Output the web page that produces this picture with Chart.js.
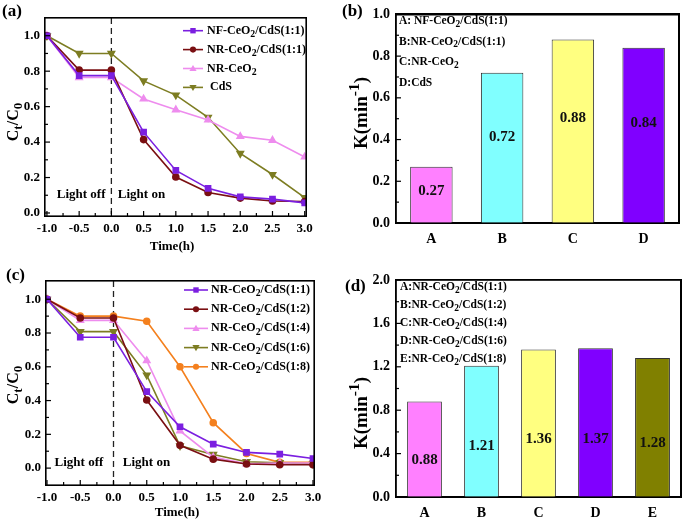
<!DOCTYPE html>
<html>
<head>
<meta charset="utf-8">
<script src="https://cdn.jsdelivr.net/npm/chart.js@4.4.0/dist/chart.umd.min.js"></script>
<style>
  body { margin: 0; background: #fff; width: 685px; height: 522px; position: relative; overflow: hidden; }
  .panel { position: absolute; line-height: 0; }
  canvas { display: block; }
</style>
</head>
<body>
<div class="panel" id="panelA" style="left:0;top:0"><canvas id="chartA" width="340" height="260"></canvas></div>
<div class="panel" id="panelB" style="left:340px;top:0"><canvas id="chartB" width="345" height="260"></canvas></div>
<div class="panel" id="panelC" style="left:0;top:260px"><canvas id="chartC" width="340" height="262"></canvas></div>
<div class="panel" id="panelD" style="left:340px;top:260px"><canvas id="chartD" width="345" height="262"></canvas></div>

<script>
// ---- data ----
const timeH = [-1.0, -0.5, 0.0, 0.5, 1.0, 1.5, 2.0, 2.5, 3.0];

// panel (a)
const namesA = ['NF-CeO_{2}/CdS(1:1)', 'NR-CeO_{2}/CdS(1:1)', 'NR-CeO_{2}', ' CdS'];
const nfCdS11 = [1.0, 0.775, 0.775, 0.456, 0.24, 0.139, 0.091, 0.078, 0.057];
const nrCdS11 = [1.0, 0.806, 0.806, 0.414, 0.203, 0.116, 0.084, 0.068, 0.065];
const nrCeO2 = [1.0, 0.764, 0.764, 0.643, 0.582, 0.525, 0.432, 0.41, 0.316];
const cdsOnly = [1.0, 0.9, 0.9, 0.745, 0.665, 0.54, 0.336, 0.217, 0.087];

// panel (c)
const namesC = ['NR-CeO_{2}/CdS(1:1)', 'NR-CeO_{2}/CdS(1:2)', 'NR-CeO_{2}/CdS(1:4)', 'NR-CeO_{2}/CdS(1:6)', 'NR-CeO_{2}/CdS(1:8)'];
const ratio11 = [1.0, 0.775, 0.775, 0.453, 0.245, 0.142, 0.093, 0.083, 0.057];
const ratio12 = [1.0, 0.889, 0.889, 0.403, 0.135, 0.053, 0.024, 0.02, 0.02];
const ratio14 = [1.0, 0.875, 0.875, 0.636, 0.22, 0.065, 0.025, 0.03, 0.03];
const ratio16 = [1.0, 0.808, 0.808, 0.551, 0.132, 0.081, 0.038, 0.032, 0.024];
const ratio18 = [1.0, 0.9, 0.9, 0.87, 0.6, 0.269, 0.087, 0.034, 0.034];

// panel (b)
const catsB = ['A', 'B', 'C', 'D'];
const kB = [0.27, 0.72, 0.88, 0.84];
const boxTextB = ['A: NF-CeO_{2}/CdS(1:1)', 'B:NR-CeO_{2}/CdS(1:1)', 'C:NR-CeO_{2}', 'D:CdS'];

// panel (d)
const catsD = ['A', 'B', 'C', 'D', 'E'];
const kD = [0.88, 1.21, 1.36, 1.37, 1.28];
const boxTextD = ['A:NR-CeO_{2}/CdS(1:1)', 'B:NR-CeO_{2}/CdS(1:2)', 'C:NR-CeO_{2}/CdS(1:4)', 'D:NR-CeO_{2}/CdS(1:6)', 'E:NR-CeO_{2}/CdS(1:8)'];

// tick labels
const timeTicks = [-1.0, -0.5, 0.0, 0.5, 1.0, 1.5, 2.0, 2.5, 3.0];
const ratioTicks = [0.0, 0.2, 0.4, 0.6, 0.8, 1.0];
const kTicksB = [0.0, 0.2, 0.4, 0.6, 0.8, 1.0];
const kTicksD = [0.0, 0.4, 0.8, 1.2, 1.6, 2.0];

// ---- helpers ----
const SERIF = '"Liberation Serif", "Times New Roman", serif';
const font = s => 'bold ' + s + 'px ' + SERIF;

function richParts(str) {
  const out = [];
  const re = /([_^])\{([^}]*)\}/g;
  let last = 0, m;
  while ((m = re.exec(str))) {
    if (m.index > last) out.push({ t: str.slice(last, m.index), k: '' });
    out.push({ t: m[2], k: m[1] });
    last = re.lastIndex;
  }
  if (last < str.length) out.push({ t: str.slice(last), k: '' });
  return out;
}

function drawRich(ctx, str, x, y, size, align) {
  const parts = richParts(str);
  const small = size * 0.82;
  let w = 0;
  parts.forEach(p => {
    ctx.font = font(p.k ? small : size);
    p.w = ctx.measureText(p.t).width;
    w += p.w;
  });
  let cx = align === 'center' ? x - w / 2 : x;
  ctx.textAlign = 'left';
  ctx.textBaseline = 'middle';
  parts.forEach(p => {
    ctx.font = font(p.k ? small : size);
    const dy = p.k === '_' ? size * 0.3 : (p.k === '^' ? -size * 0.35 : 0);
    ctx.fillText(p.t, cx, y + dy);
    cx += p.w;
  });
}

function drawMarker(ctx, style, x, y, r, color) {
  ctx.fillStyle = color;
  ctx.beginPath();
  if (style === 'rect') {
    ctx.rect(x - r * 0.75, y - r * 0.75, r * 1.5, r * 1.5);
  } else if (style === 'circle') {
    ctx.arc(x, y, r * 0.85, 0, Math.PI * 2);
  } else if (style === 'triangle') {
    ctx.moveTo(x, y - r); ctx.lineTo(x + r, y + r * 0.7); ctx.lineTo(x - r, y + r * 0.7);
  } else {
    ctx.moveTo(x, y + r); ctx.lineTo(x + r, y - r * 0.7); ctx.lineTo(x - r, y - r * 0.7);
  }
  ctx.closePath();
  ctx.fill();
}

function minorList(lo, hi, step, majors) {
  const out = [];
  for (let v = lo; v <= hi + 1e-9; v += step) {
    const r = Math.round(v * 1000) / 1000;
    if (!majors.some(m => Math.abs(m - r) < 1e-6)) out.push(r);
  }
  return out;
}

// frame + inward ticks on a plain overlay canvas, placed from the chart's scales
function addFrame(chart, hostId, cfg) {
  const cv = document.createElement('canvas');
  cv.width = chart.width;
  cv.height = chart.height;
  cv.style.cssText = 'position:absolute;left:0;top:0;pointer-events:none;z-index:2';
  document.getElementById(hostId).appendChild(cv);
  const ctx = cv.getContext('2d');
  const a = chart.chartArea, scales = chart.scales;
  const L = Math.round(a.left), R = Math.round(a.right), T = Math.round(a.top), B = Math.round(a.bottom);
  ctx.fillStyle = '#000';
  ctx.fillRect(L - 1, T - 1, R - L + 2, 1.6);
  ctx.fillRect(L - 1, B - 0.6, R - L + 2, 1.6);
  ctx.fillRect(L - 1, T - 1, 1.6, B - T + 2);
  ctx.fillRect(R - 0.6, T - 1, 1.6, B - T + 2);
  if (cfg.xMajor) {
    cfg.xMajor.forEach(v => { const x = scales.x.getPixelForValue(v); ctx.fillRect(x - 0.6, B - 5, 1.2, 5); });
    minorList(cfg.xMajor[0], cfg.xMajor[cfg.xMajor.length - 1], cfg.xMinor, cfg.xMajor)
      .forEach(v => { const x = scales.x.getPixelForValue(v); ctx.fillRect(x - 0.6, B - 3, 1.2, 3); });
  }
  cfg.yMajor.forEach(v => { const y = scales.y.getPixelForValue(v); ctx.fillRect(L, y - 0.6, 5, 1.2); });
  minorList(cfg.yMajor[0], cfg.yMajor[cfg.yMajor.length - 1], cfg.yMinor, cfg.yMajor)
    .forEach(v => { const y = scales.y.getPixelForValue(v); ctx.fillRect(L, y - 0.6, 3, 1.2); });
}

// titles, legends, notes, dashed marker line
function makeDeco(id, cfg) {
  return {
    id: id,
    beforeDatasetsDraw(chart) {
      if (cfg.dashX === undefined) return;
      const { ctx, chartArea: a, scales } = chart;
      const x = scales.x.getPixelForValue(cfg.dashX);
      ctx.save();
      ctx.strokeStyle = '#222';
      ctx.lineWidth = 1.3;
      ctx.setLineDash([6, 4]);
      ctx.beginPath(); ctx.moveTo(x, a.top); ctx.lineTo(x, a.bottom); ctx.stroke();
      ctx.restore();
    },
    afterDraw(chart) {
      const { ctx, scales } = chart;
      ctx.save();
      ctx.fillStyle = '#000';

      ctx.font = font(17);
      ctx.textAlign = 'left';
      ctx.textBaseline = 'middle';
      ctx.fillText(cfg.panel[0], cfg.panel[1], cfg.panel[2]);

      ctx.save();
      ctx.translate(cfg.yTitle[1], cfg.yTitle[2]);
      ctx.rotate(-Math.PI / 2);
      drawRich(ctx, cfg.yTitle[0], 0, 0, cfg.yTitle[3], 'center');
      ctx.restore();

      if (cfg.xTitle) {
        ctx.fillStyle = '#000';
        drawRich(ctx, cfg.xTitle[0], cfg.xTitle[1], cfg.xTitle[2], 13, 'center');
      }

      if (cfg.legend) {
        const lg = cfg.legend;
        chart.data.datasets.forEach((ds, i) => {
          const y = lg.y0 + i * lg.dy;
          ctx.strokeStyle = ds.borderColor;
          ctx.lineWidth = 1.6;
          ctx.beginPath(); ctx.moveTo(lg.x0, y); ctx.lineTo(lg.x1, y); ctx.stroke();
          drawMarker(ctx, ds.markerShape, (lg.x0 + lg.x1) / 2, y, 3.6, ds.borderColor);
          ctx.fillStyle = '#000';
          drawRich(ctx, lg.names[i], lg.tx, y, 12, 'left');
        });
      }

      if (cfg.box) {
        ctx.fillStyle = '#000';
        cfg.box.lines.forEach((t, i) => drawRich(ctx, t, cfg.box.x, cfg.box.y0 + i * cfg.box.dy, 11.5, 'left'));
      }

      if (cfg.barFrac) {
        const meta = chart.getDatasetMeta(0);
        const vals = chart.data.datasets[0].data;
        ctx.fillStyle = '#111';
        ctx.font = font(15);
        ctx.textAlign = 'center';
        ctx.textBaseline = 'middle';
        meta.data.forEach((bar, i) => {
          ctx.fillText(vals[i].toFixed(2), bar.x, scales.y.getPixelForValue(vals[i] * cfg.barFrac));
        });
      }

      if (cfg.notes) {
        ctx.fillStyle = '#000';
        ctx.font = font(13);
        ctx.textBaseline = 'middle';
        cfg.notes.forEach(n => {
          ctx.textAlign = n.align;
          ctx.fillText(n.text, scales.x.getPixelForValue(n.x), scales.y.getPixelForValue(n.y));
        });
      }
      ctx.restore();
    }
  };
}

function fixTicks(list) {
  return scale => { scale.ticks = list.map(v => ({ value: v })); };
}

function lineSet(values, color, shape) {
  return {
    data: timeH.map((t, i) => ({ x: t, y: values[i] })),
    borderColor: color,
    backgroundColor: color,
    borderWidth: 1.6,
    pointStyle: shape === 'down' ? 'triangle' : shape,
    rotation: shape === 'down' ? 180 : 0,
    pointRadius: shape === 'circle' ? 3 : 3.6,
    markerShape: shape,
    tension: 0
  };
}

const noGrid = () => ({ display: false, drawTicks: false, tickLength: 0 });
const blackBorder = () => ({ display: true, color: '#000', width: 1.6 });

function lineOptions(xMin, xMax, yMin, yMax, yWidth, xHeight, pad) {
  return {
    responsive: false,
    animation: false,
    layout: { padding: pad },
    plugins: { legend: { display: false }, tooltip: { enabled: false } },
    scales: {
      x: {
        type: 'linear', min: xMin, max: xMax,
        grid: noGrid(), border: { display: false },
        afterBuildTicks: fixTicks(timeTicks),
        afterFit: s => { s.height = xHeight; },
        ticks: { color: '#000', font: { family: SERIF, size: 13, weight: 'bold' }, padding: 5, maxRotation: 0,
                 callback: v => v.toFixed(1) }
      },
      y: {
        min: yMin, max: yMax,
        grid: noGrid(), border: { display: false },
        afterBuildTicks: fixTicks(ratioTicks),
        afterFit: s => { s.width = yWidth; },
        ticks: { color: '#000', font: { family: SERIF, size: 13, weight: 'bold' }, padding: 5,
                 callback: v => v.toFixed(1) }
      }
    }
  };
}

// bar panels: the library draws the box itself through four axis borders
function barOptions(yMax, yTicks, yWidth, xHeight, pad, barPct) {
  return {
    responsive: false,
    animation: false,
    layout: { padding: pad },
    plugins: { legend: { display: false }, tooltip: { enabled: false } },
    datasets: { bar: { barPercentage: barPct, categoryPercentage: 1 } },
    scales: {
      x: {
        grid: noGrid(), border: blackBorder(),
        afterFit: s => { s.height = xHeight; },
        ticks: { color: '#000', font: { family: SERIF, size: 14, weight: 'bold' }, padding: 8 }
      },
      y: {
        min: 0, max: yMax,
        grid: noGrid(), border: blackBorder(),
        afterBuildTicks: fixTicks(yTicks),
        afterFit: s => { s.width = yWidth; },
        ticks: { color: '#000', font: { family: SERIF, size: 14, weight: 'bold' }, padding: 6,
                 callback: v => v.toFixed(1) }
      },
      xTop: {
        type: 'category', position: 'top', display: true,
        grid: noGrid(), border: blackBorder(),
        ticks: { display: false },
        afterFit: s => { s.height = 0; }
      },
      yRight: {
        type: 'linear', position: 'right', display: true, min: 0, max: yMax,
        grid: noGrid(), border: blackBorder(),
        ticks: { display: false },
        afterFit: s => { s.width = 0; }
      }
    }
  };
}

window.onload = () => {
  // (a)
  const cfgA = {
    dashX: 0,
    xMajor: timeTicks, xMinor: 0.25,
    yMajor: ratioTicks, yMinor: 0.1,
    panel: ['(a)', 2, 12],
    yTitle: ['C_{t}/C_{0}', 14, 122, 16],
    xTitle: ['Time(h)', 172, 247],
    legend: { names: namesA, x0: 183, x1: 203, tx: 207, y0: 30.7, dy: 18.9 },
    notes: [
      { text: 'Light off', x: -0.47, y: 0.104, align: 'center' },
      { text: 'Light on', x: 0.1, y: 0.104, align: 'left' }
    ]
  };
  const chartA = new Chart(document.getElementById('chartA'), {
    type: 'line',
    data: {
      datasets: [
        lineSet(nfCdS11, '#7b1fe0', 'rect'),
        lineSet(nrCdS11, '#7a0f12', 'circle'),
        lineSet(nrCeO2, '#ee8cee', 'triangle'),
        lineSet(cdsOnly, '#7d7d22', 'down')
      ]
    },
    options: lineOptions(-1.03, 3.02, -0.017, 1.1, 45, 44, { top: 18, right: 34, left: 0, bottom: 0 }),
    plugins: [makeDeco('decoA', cfgA)]
  });
  addFrame(chartA, 'panelA', cfgA);

  // (b)
  const cfgB = {
    yMajor: kTicksB, yMinor: 0.1,
    panel: ['(b)', 2, 12],
    yTitle: ['K(min^{-1})', 22, 113, 19],
    box: { lines: boxTextB, x: 59, y0: 21, dy: 20.6 },
    barFrac: 0.57
  };
  const chartB = new Chart(document.getElementById('chartB'), {
    type: 'bar',
    data: {
      labels: catsB,
      datasets: [{
        data: kB,
        backgroundColor: ['#ff80ff', '#80ffff', '#ffff80', '#8000ff'],
        borderColor: '#333',
        borderWidth: 1
      }]
    },
    options: barOptions(1.0, kTicksB, 56, 37, { top: 13, right: 6, left: 0, bottom: 0 }, 0.6),
    plugins: [makeDeco('decoB', cfgB)]
  });
  addFrame(chartB, 'panelB', cfgB);

  // (c)
  const cfgC = {
    dashX: 0,
    xMajor: timeTicks, xMinor: 0.25,
    yMajor: ratioTicks, yMinor: 0.1,
    panel: ['(c)', 6, 16],
    yTitle: ['C_{t}/C_{0}', 14, 125, 16],
    xTitle: ['Time(h)', 177, 253],
    legend: { names: namesC, x0: 184, x1: 208, tx: 211, y0: 30, dy: 19.2 },
    notes: [
      { text: 'Light off', x: -0.52, y: 0.034, align: 'center' },
      { text: 'Light on', x: 0.14, y: 0.034, align: 'left' }
    ]
  };
  const chartC = new Chart(document.getElementById('chartC'), {
    type: 'line',
    data: {
      datasets: [
        lineSet(ratio11, '#7b1fe0', 'rect'),
        lineSet(ratio12, '#7a0f12', 'circle'),
        lineSet(ratio14, '#ee8cee', 'triangle'),
        lineSet(ratio16, '#7d7d22', 'down'),
        lineSet(ratio18, '#f4801e', 'circle')
      ]
    },
    options: lineOptions(-1.015, 3.015, -0.1, 1.108, 46, 37, { top: 21, right: 26, left: 0, bottom: 0 }),
    plugins: [makeDeco('decoC', cfgC)]
  });
  addFrame(chartC, 'panelC', cfgC);

  // (d)
  const cfgD = {
    yMajor: kTicksD, yMinor: 0.2,
    panel: ['(d)', 5, 27],
    yTitle: ['K(min^{-1})', 22, 153, 19],
    box: { lines: boxTextD, x: 60, y0: 26.7, dy: 18.2 },
    barFrac: 0.39
  };
  const chartD = new Chart(document.getElementById('chartD'), {
    type: 'bar',
    data: {
      labels: catsD,
      datasets: [{
        data: kD,
        backgroundColor: ['#ff80ff', '#80ffff', '#ffff80', '#8000ff', '#808000'],
        borderColor: '#333',
        borderWidth: 1
      }]
    },
    options: barOptions(2.0, kTicksD, 56, 25, { top: 20, right: 4, left: 0, bottom: 0 }, 0.61),
    plugins: [makeDeco('decoD', cfgD)]
  });
  addFrame(chartD, 'panelD', cfgD);
};
</script>
</body>
</html>
